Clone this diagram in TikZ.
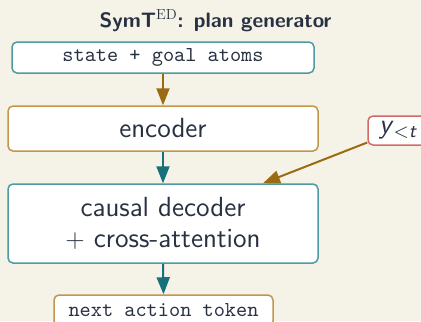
\documentclass[tikz,border=0pt]{standalone}
\usepackage{fontspec}
\usepackage{graphicx}
\usetikzlibrary{arrows.meta,calc}
\definecolor{bgcream}{HTML}{F5F2E7}
\definecolor{inkdark}{HTML}{283142}
\definecolor{tealline}{HTML}{17707A}
\definecolor{tealedge}{HTML}{4E9BA3}
\definecolor{brownline}{HTML}{9B6A12}
\definecolor{brownedge}{HTML}{C4964C}
\definecolor{rededge}{HTML}{D46A6A}
% one drawing unit
\newcommand\du{0.47pt}
\tikzset{
  blockbox/.style={draw, fill=white, rounded corners=5*\du, line width=1.5*\du,
    text=inkdark, inner sep=0pt, align=center},
  sanslabel/.style={font=\fontsize{13}{14.6}\selectfont\sffamily},
  monolabel/.style={font=\fontsize{10}{12}\selectfont\ttfamily},
  flow/.style={line width=2*\du, -{Triangle[length=17*\du,width=13*\du]}},
}
\begin{document}
\begin{tikzpicture}[x=\du,y=-\du]
\useasboundingbox[fill=bgcream] (0,0) rectangle (421,321);
\clip (0,0) rectangle (421,321);

% title
\node[anchor=base, text=inkdark, inner sep=0pt]
  (title) at (215.5,27)
  {\scalebox{0.5}{\fontsize{19.6}{23}\selectfont\sffamily\bfseries SymT$^{\mathrm{ED}}$: plan generator}};

% blocks
\node[blockbox, draw=tealedge, monolabel, minimum width=302*\du, minimum height=31*\du]
  (state) at (163,57.5) {state + goal atoms};
\node[blockbox, draw=brownedge, sanslabel, minimum width=310*\du, minimum height=45*\du]
  (enc) at (163,128.5) {encoder};
\node[blockbox, draw=tealedge, sanslabel, minimum width=310*\du, minimum height=79*\du]
  (dec) at (163,223.5) {causal decoder\\$+$ cross-attention};
\node[blockbox, draw=brownedge, monolabel, minimum width=219*\du, minimum height=31*\du]
  (next) at (163.5,310.5) {next action token};
\node[blockbox, draw=rededge, sanslabel, minimum width=60*\du, minimum height=29*\du]
  (ylt) at (398,130.5) {\textit{y}\raisebox{-0.3ex}{\fontsize{9}{10}\selectfont$<$\textit{t}}};

% connectors
\coordinate (hit) at ([xshift=100*\du]dec.north);
\draw[flow, brownline] (state.south) -- (enc.north);
\draw[flow, tealline] (enc.south) -- (dec.north);
\draw[flow, tealline] (dec.south) -- (next.north);
\draw[flow, brownline] (ylt) -- (hit);
\end{tikzpicture}
\end{document}
